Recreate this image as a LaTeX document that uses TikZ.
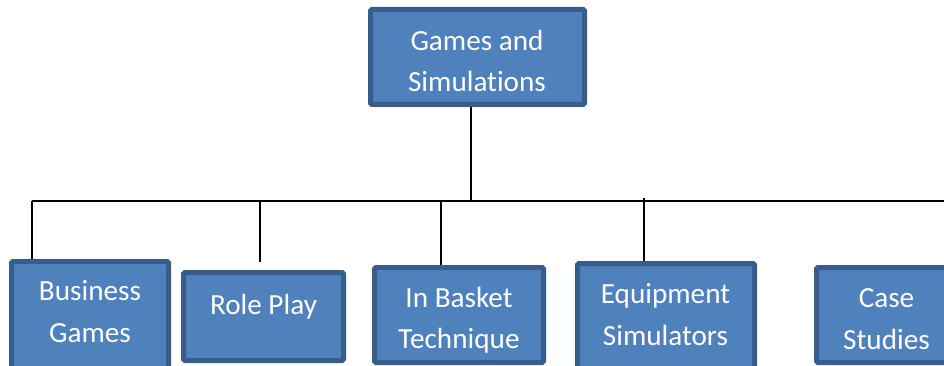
\documentclass[tikz,border=0pt]{standalone}
\usepackage{fontspec}
\setmainfont{Carlito}[Ligatures={NoCommon}]
\definecolor{boxfill}{HTML}{4F81BD}
\definecolor{boxline}{HTML}{385D8A}
\begin{document}
\begin{tikzpicture}[x=1pt,y=-1pt,
  box/.style={draw=boxline, fill=boxfill, line width=5pt, rounded corners=1.5pt, inner sep=0pt},
  lbl/.style={text=white, font=\fontsize{29.2}{41.5}\selectfont, align=center, inner sep=0pt},
  conn/.style={line width=2pt, draw=black}]
\useasboundingbox (0,0) rectangle (944,366);
\clip (0,0) rectangle (944,366);
% boxes
\node[box, minimum width=157pt, minimum height=112pt] (b1) at (90,317.5) {};
\node[box, minimum width=214pt, minimum height=95pt] (top) at (477.5,57) {};
\node[box, minimum width=160pt, minimum height=88pt] (b2) at (263.5,316.5) {};
\node[box, minimum width=169pt, minimum height=95pt] (b3) at (459,315) {};
\node[box, minimum width=177pt, minimum height=106pt] (b4) at (666,316.5) {};
\node[box, minimum width=139pt, minimum height=95pt] (b5) at (886,315) {};
% connectors
\coordinate (j0) at (471,201);
\coordinate (bl) at (32,201);
\coordinate (br) at (950,201);
\coordinate (j1) at (32,201);
\coordinate (j2) at (260,201);
\coordinate (j3) at (441,201);
\coordinate (j4) at (644,201);
\draw[conn] (j0 |- top.south) -- (j0);
\draw[conn] (bl) -- (br);
\draw[conn] (j1) -- (j1 |- b1.north);
\draw[conn, shorten >=8.5pt] (j2) -- (j2 |- b2.north);
\draw[conn] (j3) -- (j3 |- b3.north);
\draw[conn] ([yshift=3pt]j4) -- (j4 |- b4.north);
% labels
\node[lbl] (ttop) at (477,61) {Games and\\Simulations};
\node[lbl] (t1) at (90,311.5) {Business\\Games};
\node[lbl] (t2) at (263.5,306.5) {Role Play};
\node[lbl] (t3) at (459,320) {In Basket\\Technique};
\node[lbl] (t4) at (665.5,314.5) {Equipment\\Simulators};
\node[lbl] (t5) at (886.5,319) {Case\\Studies};
\end{tikzpicture}
\end{document}
